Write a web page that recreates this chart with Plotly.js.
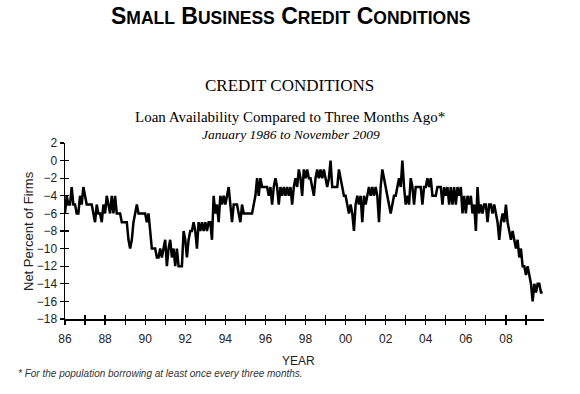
<!DOCTYPE html>
<html>
<head>
<meta charset="utf-8">
<script src="https://cdn.plot.ly/plotly-3.0.1.min.js"></script>
<style>html,body{margin:0;padding:0;background:#fff;}#chart{width:580px;height:394px;}</style>
</head>
<body>
<div id="chart"></div>
<script>
// Monthly series, January 1986 to November 2009 (net percent of firms)
const startYear = 1986;
const netPercent = [
  // 1986
  -6,-4,-5,-5,-3,-5,-5,-6,-6,-4,-5,-3,
  // 1987
  -4,-5,-5,-5,-5,-6,-7,-5,-6,-6,-7,-5,
  // 1988
  -6,-4,-5,-6,-4,-6,-4,-6,-6,-6,-7,-7,
  // 1989
  -7,-7,-9,-10,-9,-7,-6,-5,-6,-6,-6,-6,
  // 1990
  -6,-7,-6,-8,-10,-10,-10,-11,-11,-10,-11,-10,
  // 1991
  -9,-12,-10,-9,-11,-10,-12,-10,-12,-12,-12,-8,
  // 1992
  -9,-11,-9,-8,-8,-7,-8,-10,-7,-8,-7,-8,
  // 1993
  -7,-8,-7,-7,-9,-4,-6,-5,-7,-4,-5,-4,
  // 1994
  -5,-4,-3,-5,-7,-5,-5,-5,-6,-7,-5,-6,
  // 1995
  -6,-6,-6,-6,-6,-5,-4,-2,-4,-2,-3,-3,
  // 1996
  -3,-3,-4,-3,-5,-3,-2,-3,-5,-3,-4,-3,
  // 1997
  -4,-3,-4,-3,-5,-3,-2,-3,-1,-2,-4,-1,
  // 1998
  -2,-1,-2,-2,-3,-4,-2,-1,-2,-1,-2,-1,
  // 1999
  -2,-3,-2,0,-3,-3,-3,-3,-1,-2,-3,-4,
  // 2000
  -4,-5,-6,-5,-6,-8,-5,-4,-5,-4,-7,-4,
  // 2001
  -5,-4,-3,-4,-3,-4,-3,-4,-7,-3,-1,-2,
  // 2002
  -3,-4,-5,-6,-5,-4,-4,-3,-2,-3,0,-3,
  // 2003
  -5,-4,-5,-2,-3,-5,-3,-3,-3,-3,-5,-3,
  // 2004
  -3,-2,-3,-2,-4,-4,-4,-3,-3,-3,-5,-3,
  // 2005
  -4,-3,-5,-3,-5,-3,-5,-3,-4,-3,-6,-4,
  // 2006
  -6,-4,-5,-4,-6,-5,-8,-3,-6,-5,-6,-5,
  // 2007
  -5,-7,-5,-5,-6,-5,-6,-7,-9,-7,-6,-7,
  // 2008
  -5,-7,-8,-9,-8,-9,-10,-9,-11,-10,-12,-12,
  // 2009 (Jan-Nov)
  -13,-12,-13,-14,-16,-14,-15,-14,-14,-15,-15
];
const yTickVals = [2,0,-2,-4,-6,-8,-10,-12,-14,-16,-18];
const xTickYears = [1986,1987,1988,1989,1990,1991,1992,1993,1994,1995,1996,1997,1998,1999,2000,2001,2002,2003,2004,2005,2006,2007,2008,2009];
const xTickText  = ['86','','88','','90','','92','','94','','96','','98','','00','','02','','04','','06','','08',''];

const xVals = netPercent.map((v, i) => startYear + i / 12);

const axisFont = {family: 'Liberation Sans, Arial, sans-serif', size: 12, color: '#222'};

const traces = [
  {x: xVals, y: netPercent, type: 'scatter', mode: 'lines',
   line: {color: '#000', width: 2.5}, hoverinfo: 'skip', xaxis: 'x', yaxis: 'y'},
  {x: [], y: [], type: 'scatter', mode: 'lines', xaxis: 'x2', yaxis: 'y2', hoverinfo: 'skip'}
];

const xr = [1986, 2009.9];
const yr = [-18, 2];
const PW = 479, PH = 176, PL = 65, PB = 319, PT = 143;
const px = v => (v - PL) / PW;
const py = v => (PB - v) / PH;

const layout = {
  width: 580, height: 394,
  margin: {l: PL, r: 580 - PL - PW, t: PT, b: 394 - PB},
  paper_bgcolor: '#fff', plot_bgcolor: '#fff',
  showlegend: false,
  xaxis: {
    range: xr, tickmode: 'array', tickvals: xTickYears, ticktext: xTickText,
    ticks: 'outside', ticklen: 4, tickwidth: 1.2, tickcolor: '#000',
    ticklabelstandoff: 4,
    showline: true, linecolor: '#000', linewidth: 1.5, showgrid: false, zeroline: false,
    tickfont: axisFont, fixedrange: true
  },
  yaxis: {
    range: yr, tickmode: 'array', tickvals: yTickVals,
    ticks: 'outside', ticklen: 4, tickwidth: 1.2, tickcolor: '#000',
    showline: true, linecolor: '#000', linewidth: 1.5, showgrid: false, zeroline: false,
    tickfont: axisFont, fixedrange: true
  },
  xaxis2: {
    overlaying: 'x', range: xr, tickmode: 'array', tickvals: xTickYears,
    ticks: 'inside', ticklen: 4, tickwidth: 1.2, tickcolor: '#000',
    showticklabels: false, showline: false, showgrid: false, zeroline: false, fixedrange: true
  },
  yaxis2: {
    overlaying: 'y', side: 'left', range: yr, tickmode: 'array', tickvals: yTickVals,
    ticks: 'inside', ticklen: 4, tickwidth: 1.2, tickcolor: '#000',
    showticklabels: false, showline: false, showgrid: false, zeroline: false, fixedrange: true
  },
  annotations: [
    {xref: 'paper', yref: 'paper', xanchor: 'center', yanchor: 'middle',
     x: px(291), y: py(16), showarrow: false,
     text: '<b>S<span style="font-size:17.5px">MALL</span> B<span style="font-size:17.5px">USINESS</span> C<span style="font-size:17.5px">REDIT</span> C<span style="font-size:17.5px">ONDITIONS</span></b>',
     font: {family: 'Liberation Sans, Arial, sans-serif', size: 23, color: '#000'}},
    {xref: 'paper', yref: 'paper', xanchor: 'center', yanchor: 'middle',
     x: px(289.5), y: py(86), showarrow: false,
     text: 'CREDIT CONDITIONS',
     font: {family: 'Liberation Serif, Times New Roman, serif', size: 17, color: '#000'}},
    {xref: 'paper', yref: 'paper', xanchor: 'center', yanchor: 'middle',
     x: px(290), y: py(117), showarrow: false,
     text: 'Loan Availability Compared to Three Months Ago*',
     font: {family: 'Liberation Serif, Times New Roman, serif', size: 15, color: '#000'}},
    {xref: 'paper', yref: 'paper', xanchor: 'center', yanchor: 'middle',
     x: px(290.5), y: py(134.5), showarrow: false,
     text: '<i>January 1986 to November 2009</i>',
     font: {family: 'Liberation Serif, Times New Roman, serif', size: 13.5, color: '#000'}},
    {xref: 'paper', yref: 'paper', xanchor: 'center', yanchor: 'middle',
     x: px(28), y: py(231), showarrow: false, textangle: -90,
     text: 'Net Percent of Firms',
     font: {family: 'Liberation Sans, Arial, sans-serif', size: 13, color: '#222'}},
    {xref: 'paper', yref: 'paper', xanchor: 'center', yanchor: 'middle',
     x: px(298.5), y: py(361), showarrow: false,
     text: 'YEAR', font: axisFont},
    {xref: 'paper', yref: 'paper', xanchor: 'left', yanchor: 'middle',
     x: px(16), y: py(373), showarrow: false,
     text: '<i>* For the population borrowing at least once every three months.</i>',
     font: {family: 'Liberation Sans, Arial, sans-serif', size: 10, color: '#333'}}
  ]
};

Plotly.newPlot('chart', traces, layout, {staticPlot: true, displayModeBar: false});
</script>
</body>
</html>
